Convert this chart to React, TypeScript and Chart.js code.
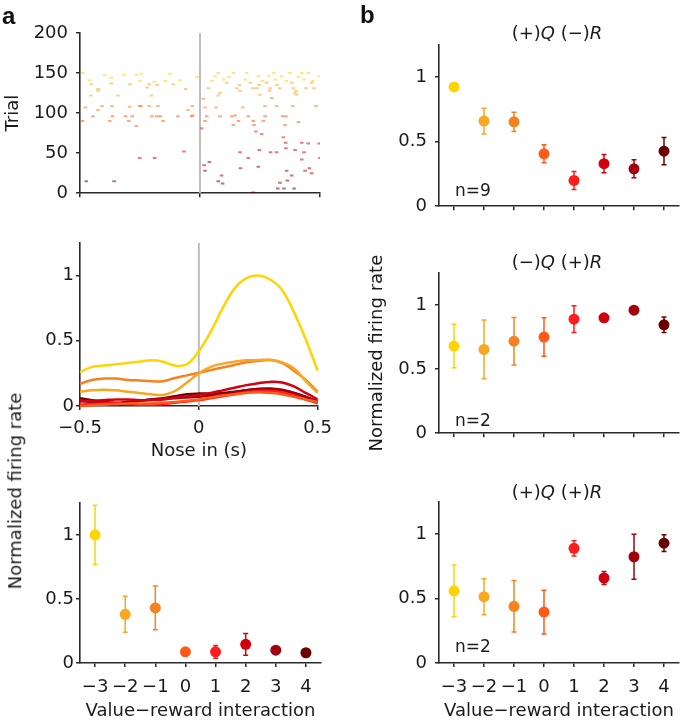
import React, { useEffect, useRef } from 'react';
import { Chart, registerables } from 'chart.js';
Chart.register(...registerables);

const FONT = '"DejaVu Sans", "Liberation Sans", sans-serif';
const AXIS = '#2a2a2a';
const TEXT = '#1a1a1a';

// ---------- shared categories ----------
const levels = [-3, -2, -1, 0, 1, 2, 3, 4];
const levelTickLabels = ['−3', '−2', '−1', '0', '1', '2', '3', '4'];
const levelColors = ['#FFD400', '#F9A623', '#F5821F', '#FF5A16', '#FF1C1C', '#D3000F', '#A2000F', '#6A0000'];

// ---------- raster ----------
const rasterYTicks = [0, 50, 100, 150, 200];
const rasterYLabels = ['0', '50', '100', '150', '200'];
const timeTicks = [-0.5, 0, 0.5];
const timeTickLabels = ['−0.5', '0', '0.5'];
// lowest trial number belonging to each level (-3 ... 4)
const trialGroupFloor = [139, 120, 100, 83, 64, 40, 20, 0];
// [time (s), trial]
const rasterSpikes: [number, number][] = [
  [-0.488, 150], [-0.46, 141], [-0.453, 136], [-0.455, 122], [-0.478, 107], [-0.49, 90],
  [-0.425, 130], [-0.425, 128], [-0.408, 109], [-0.425, 104], [-0.446, 96], [-0.397, 148],
  [-0.37, 144], [-0.37, 137], [-0.367, 109], [-0.365, 96], [-0.376, 90], [-0.342, 122],
  [-0.318, 148], [-0.292, 136], [-0.293, 108], [-0.31, 96], [-0.297, 90], [-0.283, 96],
  [-0.265, 148], [-0.245, 149], [-0.251, 140], [-0.252, 109], [-0.246, 109], [-0.265, 84],
  [-0.221, 132], [-0.212, 136], [-0.203, 122], [-0.212, 109], [-0.2, 96], [-0.18, 96],
  [-0.165, 96], [-0.175, 109], [-0.19, 139], [-0.178, 135], [-0.154, 90], [-0.145, 140],
  [-0.126, 149], [-0.112, 136], [-0.092, 96], [-0.085, 141], [-0.06, 130], [-0.05, 104],
  [-0.035, 96], [-0.03, 97], [-0.032, 109], [-0.011, 145], [-0.067, 52], [-0.251, 44],
  [-0.189, 44], [-0.474, 15], [-0.358, 15],
  [0.007, 81], [0.014, 118], [0.035, 131], [0.021, 107], [0.028, 96], [0.021, 90],
  [0.063, 146], [0.076, 150], [0.083, 125], [0.076, 122], [0.067, 107], [0.083, 96],
  [0.1, 142], [0.111, 138], [0.139, 150], [0.132, 96], [0.139, 85], [0.146, 97],
  [0.153, 131], [0.164, 135], [0.167, 128], [0.178, 107], [0.16, 90], [0.188, 142],
  [0.194, 150], [0.201, 96], [0.222, 90], [0.225, 85], [0.233, 77], [0.243, 146],
  [0.247, 135], [0.236, 131], [0.25, 123], [0.257, 74], [0.264, 90], [0.271, 96],
  [0.271, 109], [0.278, 138], [0.285, 146], [0.292, 131], [0.306, 150], [0.313, 142],
  [0.299, 119], [0.319, 109], [0.333, 131], [0.34, 146], [0.344, 96], [0.358, 96],
  [0.354, 85], [0.347, 70], [0.357, 63], [0.358, 56], [0.375, 150], [0.382, 138],
  [0.389, 131], [0.396, 125], [0.403, 123], [0.386, 109], [0.41, 89], [0.424, 150],
  [0.433, 142], [0.442, 131], [0.451, 150], [0.465, 138], [0.475, 131], [0.483, 109],
  [0.497, 146], [0.424, 63], [0.451, 62], [0.497, 62], [0.5, 44], [0.424, 42],
  [0.396, 54], [0.433, 51], [0.167, 51], [0.201, 44], [0.247, 54], [0.294, 51],
  [0.319, 51], [0.169, 31], [0.243, 33], [0.017, 35], [0.039, 39], [0.021, 28],
  [0.09, 22], [0.076, 15], [0.094, 12], [0.361, 28], [0.382, 22], [0.364, 16],
  [0.333, 13], [0.324, 6], [0.35, 6], [0.392, 6], [0.438, 28], [0.456, 31],
  [0.465, 25], [0.222, 1], [0.05, 140], [0.12, 145], [0.21, 138], [0.26, 140],
  [0.32, 135], [0.36, 140], [0.41, 145], [0.47, 140], [0.22, 131], [0.29, 128], [0.4, 128],
];

// ---------- PSTH ----------
const psthTime = [-0.5, -0.45, -0.4, -0.35, -0.3, -0.25, -0.2, -0.15, -0.1, -0.05, 0, 0.05, 0.1, 0.15, 0.2, 0.25, 0.3, 0.35, 0.4, 0.45, 0.5];
const psthLevelM3 = [0.26, 0.30, 0.31, 0.32, 0.33, 0.34, 0.35, 0.34, 0.31, 0.32, 0.42, 0.57, 0.75, 0.90, 0.98, 1.0, 0.97, 0.89, 0.72, 0.51, 0.27];
const psthLevelM2 = [0.11, 0.12, 0.125, 0.12, 0.11, 0.10, 0.09, 0.085, 0.115, 0.18, 0.25, 0.30, 0.325, 0.34, 0.35, 0.352, 0.354, 0.335, 0.29, 0.19, 0.10];
const psthLevelM1 = [0.17, 0.20, 0.21, 0.21, 0.20, 0.195, 0.19, 0.19, 0.215, 0.235, 0.255, 0.275, 0.295, 0.315, 0.335, 0.345, 0.352, 0.33, 0.27, 0.20, 0.11];
const psthLevel0 = [0.0, 0.005, 0.01, 0.015, 0.02, 0.02, 0.02, 0.025, 0.03, 0.04, 0.05, 0.065, 0.08, 0.09, 0.10, 0.105, 0.10, 0.09, 0.07, 0.05, 0.03];
const psthLevel1 = [0.01, 0.015, 0.02, 0.02, 0.015, 0.01, 0.01, 0.015, 0.025, 0.035, 0.045, 0.06, 0.075, 0.09, 0.105, 0.115, 0.115, 0.105, 0.08, 0.05, 0.02];
const psthLevel2 = [0.035, 0.04, 0.045, 0.05, 0.05, 0.045, 0.045, 0.05, 0.065, 0.075, 0.085, 0.10, 0.12, 0.14, 0.16, 0.175, 0.185, 0.18, 0.15, 0.10, 0.05];
const psthLevel3 = [0.04, 0.03, 0.02, 0.02, 0.03, 0.04, 0.05, 0.055, 0.06, 0.065, 0.07, 0.08, 0.09, 0.105, 0.12, 0.13, 0.135, 0.125, 0.10, 0.07, 0.035];
const psthLevel4 = [0.06, 0.045, 0.03, 0.025, 0.03, 0.04, 0.05, 0.06, 0.075, 0.09, 0.095, 0.095, 0.10, 0.11, 0.12, 0.13, 0.13, 0.12, 0.10, 0.07, 0.03];
const psthSeries = [psthLevelM3, psthLevelM2, psthLevelM1, psthLevel0, psthLevel1, psthLevel2, psthLevel3, psthLevel4];

const rateTicks = [0, 0.5, 1];
const rateTickLabels = ['0', '0.5', '1'];

// ---------- dot plots ----------
const allMean = [1.0, 0.38, 0.43, 0.087, 0.087, 0.146, 0.1, 0.08];
const allErr = [0.23, 0.14, 0.17, 0, 0.05, 0.085, 0, 0];
const posQnegRMean = [0.925, 0.66, 0.654, 0.406, 0.2, 0.33, 0.29, 0.427];
const posQnegRErr = [0, 0.1, 0.075, 0.07, 0.07, 0.07, 0.07, 0.105];
const negQposRMean = [0.68, 0.654, 0.718, 0.75, 0.89, 0.9, 0.96, 0.846];
const negQposRErr = [0.17, 0.23, 0.185, 0.15, 0.105, 0, 0, 0.06];
const posQposRMean = [0.56, 0.515, 0.44, 0.395, 0.89, 0.66, 0.825, 0.93];
const posQposRErr = [0.2, 0.14, 0.2, 0.17, 0.06, 0.05, 0.175, 0.065];

// ---------- helpers ----------
type AxisSpec = {
  min: number; max: number; ticks: number[]; labels?: string[];
  labelPad: number; title?: string; titlePad?: number;
};
type Box = { left: number; top: number; width: number; height: number };
type Area = { l: number; t: number; r: number; b: number };

function scaleOpts(axis: 'x' | 'y', s: AxisSpec, fit: number) {
  return {
    type: 'linear',
    position: axis === 'x' ? 'bottom' : 'left',
    min: s.min,
    max: s.max,
    afterBuildTicks: (sc: any) => { sc.ticks = s.ticks.map((v) => ({ value: v })); },
    afterFit: (sc: any) => { if (axis === 'x') sc.height = fit; else sc.width = fit; },
    ticks: {
      autoSkip: false, maxRotation: 0, minRotation: 0, padding: s.labelPad, color: TEXT,
      font: { family: FONT, size: 18 },
      callback: (_v: any, i: number) => (s.labels ? s.labels[i] : ''),
    },
    grid: {
      display: true, drawOnChartArea: false, drawTicks: true, tickLength: 4,
      tickWidth: 1.5, tickColor: AXIS, color: AXIS, lineWidth: 1.5,
    },
    border: { display: true, color: AXIS, width: 1.6 },
    title: s.title
      ? {
          display: true, text: s.title, color: TEXT, font: { family: FONT, size: 18 },
          padding: axis === 'x' ? { top: 0, bottom: s.titlePad ?? 0 } : { top: s.titlePad ?? 0, bottom: 0 },
        }
      : { display: false },
  };
}

const errorBarPlugin = {
  id: 'errorBars',
  beforeDatasetsDraw(chart: any) {
    const ctx = chart.ctx;
    const xs = chart.scales.x;
    const ys = chart.scales.y;
    chart.data.datasets.forEach((ds: any) => {
      if (!ds.errors) return;
      ds.data.forEach((p: any, i: number) => {
        const e = ds.errors[i];
        if (!e) return;
        const px = xs.getPixelForValue(p.x);
        const yTop = ys.getPixelForValue(p.y + e);
        const yBot = ys.getPixelForValue(p.y - e);
        ctx.save();
        ctx.strokeStyle = ds.pointBackgroundColor[i];
        ctx.lineWidth = 1.5;
        ctx.beginPath();
        ctx.moveTo(px, yTop); ctx.lineTo(px, yBot);
        ctx.moveTo(px - 2.5, yTop); ctx.lineTo(px + 2.5, yTop);
        ctx.moveTo(px - 2.5, yBot); ctx.lineTo(px + 2.5, yBot);
        ctx.stroke();
        ctx.restore();
      });
    });
  },
};

function buildConfig(box: Box, area: Area, x: AxisSpec, y: AxisSpec, datasets: any[]) {
  return {
    type: 'scatter',
    data: { datasets },
    plugins: [errorBarPlugin],
    options: {
      responsive: false,
      animation: false,
      devicePixelRatio: 1,
      events: [],
      layout: { padding: { left: 0, top: area.t, right: box.width - area.r, bottom: 0 } },
      plugins: { legend: { display: false }, tooltip: { enabled: false }, title: { display: false } },
      scales: {
        x: scaleOpts('x', x, box.height - area.b),
        y: scaleOpts('y', y, area.l),
      },
    },
  };
}

function zeroLine(yMin: number, yMax: number) {
  return {
    data: [{ x: 0, y: yMin }, { x: 0, y: yMax }],
    showLine: true, borderColor: '#BDBDBD', borderWidth: 2, pointRadius: 0, order: 1,
  };
}

function dotDataset(means: number[], errs: number[]) {
  return {
    data: levels.map((lv, i) => ({ x: lv, y: means[i] })),
    errors: errs,
    showLine: false,
    pointRadius: 5.5,
    pointBackgroundColor: levelColors,
    pointBorderWidth: 0,
    clip: false,
  };
}

function levelOfTrial(tr: number) {
  const idx = trialGroupFloor.findIndex((f) => tr >= f);
  return idx < 0 ? levelColors.length - 1 : idx;
}

function ChartBox({ box, config }: { box: Box; config: any }) {
  const ref = useRef<HTMLCanvasElement>(null);
  useEffect(() => {
    const chart = new Chart(ref.current as HTMLCanvasElement, config);
    return () => chart.destroy();
  }, []);
  return (
    <canvas
      ref={ref}
      width={box.width}
      height={box.height}
      style={{ position: 'absolute', left: box.left, top: box.top, width: box.width, height: box.height }}
    />
  );
}

// ---------- panels ----------
const levelAxis = (labels: string[] | undefined, title?: string): AxisSpec => ({
  min: -3.5, max: 4.5, ticks: levels, labels, labelPad: 10, title, titlePad: 2,
});

function makePanels() {
  const panels: { box: Box; config: any }[] = [];

  // raster
  {
    const box = { left: 0, top: 0, width: 340, height: 212 };
    const area = { l: 80, t: 33, r: 320, b: 195 };
    panels.push({
      box,
      config: buildConfig(
        box, area,
        { min: -0.5, max: 0.5, ticks: timeTicks, labelPad: 2 },
        { min: 0, max: 200, ticks: rasterYTicks, labels: rasterYLabels, labelPad: 8, title: 'Trial', titlePad: 3 },
        [
          {
            data: rasterSpikes.map(([t, tr]) => ({ x: t, y: tr })),
            showLine: false,
            pointStyle: 'line',
            pointRadius: 1.8,
            pointBorderWidth: 2,
            pointBorderColor: rasterSpikes.map(([, tr]) => levelColors[levelOfTrial(tr)] + '88'),
          },
          zeroLine(0, 200),
        ],
      ),
    });
  }

  // PSTH
  {
    const box = { left: 0, top: 225, width: 340, height: 240 };
    const area = { l: 80, t: 18, r: 320, b: 181 };
    panels.push({
      box,
      config: buildConfig(
        box, area,
        { min: -0.5, max: 0.5, ticks: timeTicks, labels: timeTickLabels, labelPad: 8, title: 'Nose in (s)', titlePad: 3 },
        { min: 0, max: 1.25, ticks: rateTicks, labels: rateTickLabels, labelPad: 2 },
        [
          ...psthSeries.map((vals, li) => ({
            data: psthTime.map((t, i) => ({ x: t, y: vals[i] })),
            showLine: true,
            borderColor: levelColors[li],
            borderWidth: 2.5,
            pointRadius: 0,
            tension: 0.4,
            clip: false,
          })),
          zeroLine(0, 1.25),
        ],
      ),
    });
  }

  // all neurons dot plot
  {
    const box = { left: 0, top: 490, width: 340, height: 234 };
    const area = { l: 80, t: 12, r: 321, b: 173 };
    panels.push({
      box,
      config: buildConfig(
        box, area,
        levelAxis(levelTickLabels, 'Value−reward interaction'),
        { min: 0, max: 1.25, ticks: rateTicks, labels: rateTickLabels, labelPad: 2 },
        [dotDataset(allMean, allErr)],
      ),
    });
  }

  // right top
  {
    const box = { left: 345, top: 0, width: 340, height: 225 };
    const area = { l: 94, t: 45, r: 334, b: 208 };
    panels.push({
      box,
      config: buildConfig(
        box, area,
        levelAxis(undefined),
        { min: 0, max: 1.25, ticks: rateTicks, labels: rateTickLabels, labelPad: 8 },
        [dotDataset(posQnegRMean, posQnegRErr)],
      ),
    });
  }

  // right middle
  {
    const box = { left: 345, top: 230, width: 340, height: 222 };
    const area = { l: 94, t: 43, r: 334, b: 205 };
    panels.push({
      box,
      config: buildConfig(
        box, area,
        levelAxis(undefined),
        { min: 0, max: 1.25, ticks: rateTicks, labels: rateTickLabels, labelPad: 8, title: 'Normalized firing rate', titlePad: 22 },
        [dotDataset(negQposRMean, negQposRErr)],
      ),
    });
  }

  // right bottom
  {
    const box = { left: 345, top: 460, width: 340, height: 264 };
    const area = { l: 94, t: 42, r: 334, b: 203 };
    panels.push({
      box,
      config: buildConfig(
        box, area,
        levelAxis(levelTickLabels, 'Value−reward interaction'),
        { min: 0, max: 1.25, ticks: rateTicks, labels: rateTickLabels, labelPad: 8 },
        [dotDataset(posQposRMean, posQposRErr)],
      ),
    });
  }
  return panels;
}

const centered = (x: number, y: number, size: number): React.CSSProperties => ({
  position: 'absolute', left: x, top: y, transform: 'translate(-50%, -50%)',
  fontSize: size, whiteSpace: 'nowrap', lineHeight: 1.2,
});

export default function App() {
  const panels = makePanels();
  return (
    <div style={{ position: 'absolute', left: 0, top: 0, width: 685, height: 724, background: '#fff', fontFamily: FONT, color: TEXT }}>
      {panels.map((p, i) => <ChartBox key={i} box={p.box} config={p.config} />)}
      <div style={{ position: 'absolute', left: 2, top: 4, fontSize: 24, lineHeight: '24px', fontWeight: 'bold', fontFamily: '"Liberation Sans", Arial, sans-serif', color: '#111' }}>a</div>
      <div style={{ position: 'absolute', left: 360, top: 3, fontSize: 24, lineHeight: '24px', fontWeight: 'bold', fontFamily: '"Liberation Sans", Arial, sans-serif', color: '#111' }}>b</div>
      <div style={{ ...centered(15, 491, 18), transform: 'translate(-50%, -50%) rotate(-90deg)' }}>Normalized firing rate</div>
      <div style={centered(557, 33, 18)}>(+)<i>Q</i> (−)<i>R</i></div>
      <div style={centered(557, 262, 18)}>(−)<i>Q</i> (+)<i>R</i></div>
      <div style={centered(557, 492, 18)}>(+)<i>Q</i> (+)<i>R</i></div>
      <div style={{ position: 'absolute', left: 455, top: 190, transform: 'translateY(-50%)', fontSize: 17 }}>n=9</div>
      <div style={{ position: 'absolute', left: 455, top: 420, transform: 'translateY(-50%)', fontSize: 17 }}>n=2</div>
      <div style={{ position: 'absolute', left: 455, top: 646, transform: 'translateY(-50%)', fontSize: 17 }}>n=2</div>
    </div>
  );
}
